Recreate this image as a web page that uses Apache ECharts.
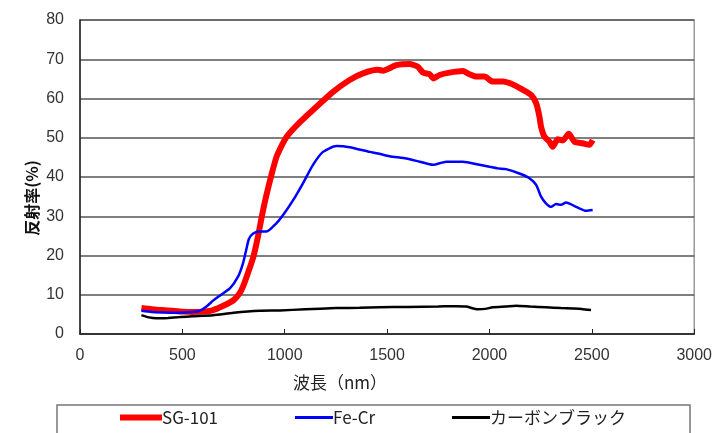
<!DOCTYPE html>
<html>
<head>
<meta charset="utf-8">
<script src="https://cdn.jsdelivr.net/npm/echarts@6/dist/echarts.min.js"></script>
<style>html,body{margin:0;padding:0;background:#fff;}#c{width:715px;height:433px;}</style>
</head>
<body>
<div id="c"></div>
<script>
const seriesNames = ['SG-101', 'Fe-Cr', 'カーボンブラック'];
const xTicks = [0, 500, 1000, 1500, 2000, 2500, 3000];
const yTicks = [0, 10, 20, 30, 40, 50, 60, 70, 80];

const sgWl = [300,350,400,450,500,550,600,650,700,750,780,800,820,846,870,890,911,935,959,985,1010,1073,1155,1236,1317,1382,1455,1480,1545,1610,1650,1675,1707,1727,1756,1805,1870,1902,1935,1976,2016,2065,2122,2163,2203,2228,2244,2252,2268,2293,2309,2333,2358,2387,2415,2455,2488,2504];
const sgVal = [6.6,6.3,6.1,5.9,5.7,5.6,5.7,6.1,7.2,8.6,10.4,12.6,15.5,19.5,25.0,30.5,35.5,40.5,45.0,48.0,50.3,53.9,57.9,61.7,64.7,66.4,67.3,67.1,68.5,68.8,68.1,66.6,66.2,65.1,66.0,66.6,67.0,66.2,65.6,65.6,64.3,64.3,63.4,62.2,60.9,58.8,55.4,52.8,50.3,49.0,47.7,49.6,49.3,51.0,49.0,48.6,48.2,49.4];

const feWl = [300,350,406,488,550,585,618,650,675,732,772,795,810,825,846,878,911,959,992,1041,1089,1138,1187,1252,1317,1415,1455,1512,1594,1659,1724,1789,1870,1951,2000,2041,2081,2146,2195,2228,2252,2276,2301,2325,2350,2374,2423,2472,2504];
const feVal = [5.9,5.6,5.5,5.4,5.6,5.9,7.0,8.5,9.5,11.6,14.6,17.8,21.0,24.2,25.6,26.1,26.1,28.2,30.3,34.1,38.4,43.1,46.4,47.9,47.6,46.4,46.0,45.3,44.7,43.9,43.1,43.9,43.9,43.1,42.6,42.2,42.0,40.9,39.7,38.0,35.0,33.3,32.4,33.1,32.9,33.5,32.4,31.4,31.6];

const cbWl = [300,330,374,430,488,550,650,750,878,976,1100,1250,1366,1463,1600,1750,1837,1886,1943,1980,2016,2080,2130,2200,2276,2350,2406,2450,2496];
const cbVal = [4.8,4.3,4.0,4.1,4.3,4.5,4.8,5.4,5.9,6.0,6.3,6.6,6.7,6.8,6.9,7.0,7.1,7.0,6.3,6.4,6.8,7.0,7.2,7.0,6.8,6.6,6.5,6.4,6.1];

const zip = (a, b) => a.map((x, i) => [x, b[i]]);

const chart = echarts.init(document.getElementById('c'));
const labelFont = { fontFamily: 'Liberation Sans, Arial, sans-serif', fontSize: 16, color: '#333' };
const cjk = 'Noto Sans CJK JP, sans-serif';

function mkLegend(name, left, w, h) {
  return {
    data: [name], left: left, top: 409, padding: 0, itemGap: 0,
    itemWidth: w, itemHeight: h, icon: 'rect',
    textStyle: { fontFamily: cjk, fontSize: 17, color: '#222', padding: [0, 0, 0, -5] },
    selectedMode: false
  };
}

chart.setOption({
  animation: false,
  backgroundColor: '#fff',
  grid: { left: 80, right: 20, top: 20, bottom: 99, show: true, borderColor: '#999', borderWidth: 1.5 },
  xAxis: {
    type: 'value', min: 0, max: 3000, interval: 500,
    axisLine: { lineStyle: { color: '#222', width: 1.5 } },
    axisTick: { inside: true, length: 5, lineStyle: { color: '#222' } },
    axisLabel: Object.assign({ margin: 14, formatter: v => xTicks.includes(v) ? String(v) : '' }, labelFont),
    splitLine: { show: false }
  },
  yAxis: {
    type: 'value', min: 0, max: 80, interval: 10,
    axisLine: { show: true, lineStyle: { color: '#222', width: 1.5 } },
    axisTick: { show: false },
    axisLabel: Object.assign({ margin: 16, formatter: v => yTicks.includes(v) ? String(v) : '' }, labelFont),
    splitLine: { lineStyle: { color: '#555', width: 1.5 } }
  },
  legend: [
    mkLegend(seriesNames[0], 120, 42, 6),
    mkLegend(seriesNames[1], 295, 38, 3),
    mkLegend(seriesNames[2], 452, 38, 3)
  ],
  graphic: [
    { type: 'rect', shape: { x: 57, y: 405, width: 633, height: 40 }, style: { fill: 'none', stroke: '#777', lineWidth: 1.5 }, z: -1 },
    { type: 'text', x: 340, y: 383, style: { text: '波長（nm）', fontFamily: cjk, fontSize: 17, fill: '#222', align: 'center', verticalAlign: 'middle' } },
    { type: 'text', x: 32, y: 198, rotation: Math.PI / 2, style: { text: '反射率(%)', fontFamily: cjk, fontSize: 16, fontWeight: 'bold', fill: '#111', align: 'center', verticalAlign: 'middle' } }
  ],
  series: [
    { name: seriesNames[0], type: 'line', data: zip(sgWl, sgVal), showSymbol: false, smooth: 0.2, z: 3, lineStyle: { color: '#ff0000', width: 6 }, itemStyle: { color: '#ff0000' } },
    { name: seriesNames[1], type: 'line', data: zip(feWl, feVal), showSymbol: false, smooth: 0.2, z: 4, lineStyle: { color: '#0000ff', width: 2.5 }, itemStyle: { color: '#0000ff' } },
    { name: seriesNames[2], type: 'line', data: zip(cbWl, cbVal), showSymbol: false, smooth: 0.2, z: 5, lineStyle: { color: '#000000', width: 2.5 }, itemStyle: { color: '#000000' } }
  ]
});
</script>
</body>
</html>
